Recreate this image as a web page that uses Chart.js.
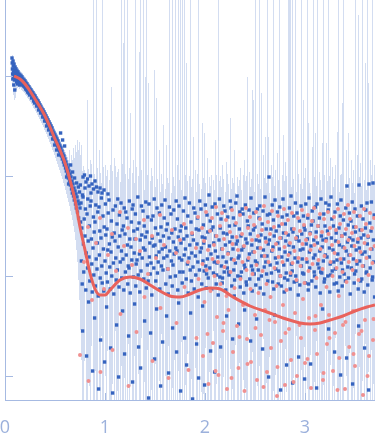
<!DOCTYPE html>
<html>
<head>
<meta charset="utf-8">
<script src="https://cdn.jsdelivr.net/npm/chart.js@4.4.1/dist/chart.umd.min.js"></script>
<style>
  html, body { margin: 0; padding: 0; background: #fff; }
</style>
</head>
<body>
<canvas id="saxs" width="375" height="438"></canvas>
<script>
// values: q on x, log10(I) on y

// measured points (used in fit)
const blueQ = [
  0.07,0.072,0.074,0.076,0.078, 0.08,0.082,0.084,0.086,0.088, 0.09,0.092,0.094,0.096,0.098,
  0.10,0.102,0.104,0.106, 0.11,0.112,0.114,0.116, 0.12,0.122,0.124,0.126, 0.13,0.132,0.134,0.136, 0.14,0.142,0.144,0.146,
  0.15,0.153,0.156, 0.16,0.163,0.166, 0.17,0.173,0.176, 0.18,0.183,0.186, 0.19,0.193,0.196,
  0.20,0.203,0.206, 0.21,0.213,0.216, 0.22,0.223,0.226, 0.23,0.233,0.236, 0.24,0.243,0.246,
  0.25,0.255, 0.26,0.263,0.266, 0.27,0.275, 0.28,0.283,0.286, 0.29,0.293,0.296,
  0.30,0.305, 0.31,0.313,0.316, 0.32,0.325, 0.33,0.333,0.336, 0.34,0.345,
  0.35,0.353,0.356, 0.36,0.365, 0.37,0.373,0.376, 0.38,0.385, 0.39,0.393,0.396,
  0.40,0.405, 0.41,0.413,0.416, 0.42,0.425, 0.43,0.433,0.436, 0.44,0.445,
  0.45,0.453,0.456, 0.46,0.465, 0.47,0.473,0.476, 0.48,0.485, 0.49,0.493,0.496,
  0.50,0.505, 0.51,0.513,0.516, 0.52,0.525, 0.53,0.533,0.536, 0.54,0.545,
  0.55,0.553,0.556, 0.56,0.565, 0.57,0.573,0.576, 0.58,0.585, 0.59,0.593,0.596,
  0.60,0.605, 0.61,0.613,0.616, 0.62,0.625, 0.63,0.633,0.636, 0.64,0.645,
  0.65,0.653,0.656, 0.66,0.665, 0.67,0.673,0.676, 0.68,0.685, 0.69,0.693,0.696,
  0.70,0.705, 0.71,0.713,0.716, 0.72,0.725, 0.73,0.733,0.736, 0.74,0.745, 0.75,0.753,0.756,
  0.76,0.764,0.768,0.772,0.776, 0.78,0.784,0.788,0.792, 0.80,0.804,0.808,0.812,0.816,
  0.82,0.824,0.828,0.832,0.836, 0.84,0.844,0.848,0.852, 0.86,0.864,0.868,0.872,0.876,
  0.88,0.884,0.888,0.892,0.896, 0.90,0.904,0.908,0.912, 0.92,0.924,0.928,0.932,0.936,
  0.94,0.944,0.948,0.952,0.956, 0.96,0.964,0.968,0.972, 0.98,0.984,0.988,0.992,0.996,
  1.00,1.004,1.008,1.012,1.016, 1.02,1.024,1.028,1.032, 1.04,1.044,1.048,1.052,1.056,
  1.06,1.064,1.068,1.072,1.076, 1.08,1.084,1.088,1.092, 1.10,1.104,1.108,1.112,1.116,
  1.12,1.124,1.128,1.132,1.136, 1.14,1.144,1.148,1.152, 1.16,1.164,1.168,1.172,1.176,
  1.18,1.184,1.188,1.192,1.196, 1.20,1.204,1.208,1.212, 1.22,1.224,1.228,1.232,1.236,
  1.24,1.244,1.248,1.252, 1.26,1.264,1.268,1.272,1.276, 1.28,1.284,1.288,1.292,1.296,
  1.30,1.304,1.308,1.312, 1.32,1.324,1.328,1.332,1.336, 1.34,1.344,1.348,1.352,1.356,
  1.36,1.364,1.368,1.372, 1.38,1.384,1.388,1.392,1.396, 1.40,1.404,1.408,1.412,
  1.42,1.424,1.428,1.432,1.436, 1.44,1.444,1.448,1.452,1.456, 1.46,1.464,1.468,1.472,
  1.48,1.484,1.488,1.492,1.496, 1.50,1.504,1.508,1.512,1.516, 1.52,1.524,1.528,1.532,
  1.54,1.544,1.548,1.552,1.556, 1.56,1.564,1.568,1.572,1.576, 1.58,1.584,1.588,1.592,
  1.60,1.604,1.608,1.612,1.616, 1.62,1.624,1.628,1.632,1.636, 1.64,1.644,1.648,1.652,
  1.66,1.664,1.668,1.672,1.676, 1.68,1.684,1.688,1.692, 1.70,1.704,1.708,1.712,1.716,
  1.72,1.724,1.728,1.732,1.736, 1.74,1.744,1.748,1.752,1.756, 1.76,1.764,1.768,1.772,
  1.78,1.784,1.788,1.792,1.796, 1.80,1.804,1.808,1.812,1.816, 1.82,1.824,1.828,1.832,
  1.84,1.844,1.848,1.852,1.856, 1.86,1.864,1.868,1.872,1.876, 1.88,1.884,1.888,1.892,
  1.90,1.904,1.908,1.912,1.916, 1.92,1.924,1.928,1.932,1.936, 1.94,1.944,1.948,1.952,
  1.96,1.964,1.968,1.972,1.976, 1.98,1.984,1.988,1.992,1.996, 2.00,2.004,2.008,2.012,2.016,
  2.02,2.024,2.028,2.032, 2.04,2.044,2.048,2.052,2.056, 2.06,2.064,2.068,2.072,
  2.08,2.084,2.088,2.092,2.096, 2.10,2.104,2.108,2.112,2.116, 2.12,2.124,2.128,2.132,
  2.14,2.144,2.148,2.152,2.156, 2.16,2.164,2.168,2.172,2.176, 2.18,2.184,2.188,2.192,
  2.20,2.204,2.208,2.212,2.216, 2.22,2.224,2.228,2.232,2.236, 2.24,2.244,2.248,2.252,
  2.26,2.264,2.268,2.272,2.276, 2.28,2.284,2.288,2.292,2.296, 2.30,2.304,2.308,2.312,
  2.32,2.324,2.328,2.332,2.336, 2.34,2.344,2.348,2.352,2.356, 2.36,2.364,2.368,2.372,
  2.38,2.384,2.388,2.392,2.396, 2.40,2.404,2.408,2.412,2.416, 2.42,2.424,2.428,2.432,
  2.44,2.444,2.448,2.452,2.456, 2.46,2.464,2.468,2.472,2.476, 2.48,2.484,2.488,2.492,
  2.50,2.504,2.508,2.512,2.516, 2.52,2.524,2.528,2.532,2.536, 2.54,2.544,2.548,2.552,
  2.56,2.564,2.568,2.572,2.576, 2.58,2.584,2.588,2.592, 2.60,2.604,2.608,2.612,2.616,
  2.62,2.624,2.628,2.632,2.636, 2.64,2.644,2.648,2.652, 2.66,2.664,2.668,2.672,2.676,
  2.68,2.684,2.688,2.692,2.696, 2.70,2.704,2.708,2.712, 2.72,2.724,2.728,2.732,2.736,
  2.74,2.744,2.748,2.752,2.756, 2.76,2.764,2.768,2.772, 2.78,2.784,2.788,2.792,2.796,
  2.80,2.804,2.808,2.812,2.816, 2.82,2.824,2.828,2.832, 2.84,2.844,2.848,2.852,2.856,
  2.86,2.864,2.868,2.872,2.876, 2.88,2.884,2.888,2.892, 2.90,2.904,2.908,2.912,2.916,
  2.92,2.924,2.928,2.932,2.936, 2.94,2.944,2.948,2.952, 2.96,2.964,2.968,2.972,2.976,
  2.98,2.984,2.988,2.992,2.996, 3.00,3.004,3.008,3.012, 3.02,3.024,3.028,3.032,3.036,
  3.04,3.044,3.048,3.052,3.056, 3.06,3.064,3.068,3.072, 3.08,3.084,3.088,3.092,3.096,
  3.10,3.104,3.108,3.112,3.116, 3.12,3.124,3.128,3.132, 3.14,3.144,3.148,3.152,3.156,
  3.16,3.164,3.168,3.172,3.176, 3.18,3.184,3.188,3.192,3.196, 3.20,3.204,3.208,3.212,
  3.22,3.224,3.228,3.232,3.236, 3.24,3.244,3.248,3.252,3.256, 3.26,3.264,3.268,3.272,
  3.28,3.284,3.288,3.292,3.296, 3.30,3.304,3.308,3.312,3.316, 3.32,3.324,3.328,3.332,
  3.34,3.344,3.348,3.352,3.356, 3.36,3.364,3.368,3.372,3.376, 3.38,3.384,3.388,3.392,
  3.40,3.404,3.408,3.412,3.416, 3.42,3.424,3.428,3.432,3.436, 3.44,3.444,3.448,3.452,
  3.46,3.464,3.468,3.472,3.476, 3.48,3.484,3.488,3.492,3.496, 3.50,3.504,3.508,3.512,
  3.52,3.524,3.528,3.532,3.536, 3.54,3.544,3.548,3.552,3.556, 3.56,3.564,3.568,3.572,
  3.58,3.584,3.588,3.592,3.596, 3.60,3.604,3.608,3.612,3.616, 3.62,3.624,3.628,3.632,3.636,
  3.64,3.644,3.648,3.652, 3.66,3.664,3.668,3.672,3.676, 3.68,3.684,3.688,3.692,3.696,
  0.775,0.78,0.795,0.80,0.81,0.825,0.84,0.855,0.86,0.87,0.885,0.90,0.915,0.93,0.95,0.97,0.99,1.03
];
const blueI = [
  0.18,0.13,0.07,0.02,-0.03, 0.15,0.10,0.04,-0.01,-0.09, 0.12,0.06,0.01,-0.04,-0.14,
  0.09,0.04,0.00,-0.03, 0.07,0.02,-0.02,-0.06, 0.05,0.01,-0.03,-0.08, 0.04,-0.01,-0.04,-0.07, 0.02,-0.02,-0.05,-0.09,
  0.01,-0.03,-0.06, 0.00,-0.04,-0.08, -0.01,-0.05,-0.09, -0.03,-0.07,-0.10, -0.04,-0.08,-0.11,
  -0.05,-0.09,-0.13, -0.07,-0.10,-0.14, -0.08,-0.12,-0.16, -0.10,-0.13,-0.17, -0.11,-0.15,-0.19,
  -0.13,-0.17, -0.14,-0.18,-0.22, -0.16,-0.20, -0.17,-0.21,-0.25, -0.19,-0.23,-0.27,
  -0.20,-0.25, -0.22,-0.26,-0.30, -0.24,-0.28, -0.25,-0.30,-0.34, -0.27,-0.32,
  -0.29,-0.33,-0.37, -0.31,-0.35, -0.33,-0.37,-0.41, -0.34,-0.39, -0.36,-0.41,-0.45,
  -0.38,-0.43, -0.40,-0.45,-0.50, -0.42,-0.47, -0.44,-0.49,-0.54, -0.46,-0.52,
  -0.48,-0.53,-0.58, -0.50,-0.56, -0.52,-0.58,-0.63, -0.55,-0.60, -0.57,-0.63,-0.69,
  -0.59,-0.65, -0.61,-0.67,-0.74, -0.63,-0.70, -0.65,-0.72,-0.79, -0.68,-0.75,
  -0.70,-0.77,-0.57, -0.72,-0.80, -0.75,-0.83,-0.64, -0.78,-0.86, -0.80,-0.89,-0.70,
  -0.83,-0.92, -0.86,-0.95,-1.01, -0.89,-0.98, -0.92,-1.02,-1.08, -0.95,-1.05,
  -0.98,-1.09,-0.89, -1.01,-1.13, -1.05,-1.17,-0.96, -1.08,-1.20, -1.12,-1.24,-1.02,
  -1.15,-1.28, -1.18,-1.32,-1.07, -1.21,-1.36, -1.25,-1.11,-1.42, -1.28,-1.16, -1.32,-1.09,-1.46,
  -1.27,-1.85,-1.52,-2.08,-2.55, -1.21,-1.68,-1.96,-1.43, -1.60,-1.33,-2.14,-1.77,-2.80,
  -1.38,-1.92,-1.23,-1.65,-2.26, -1.81,-1.50,-2.05,-1.30, -1.25,-1.63,-1.88,-2.16,-2.95,
  -1.72,-1.41,-1.99,-1.56,-2.42, -1.46,-2.10,-1.29,-1.83, -1.93,-1.67,-1.36,-2.20,-3.13,
  -1.31,-1.79,-1.55,-2.02,-2.64, -1.62,-1.22,-1.90,-2.07, -1.40,-1.73,-2.15,-1.51,-2.86,
  -1.85,-1.28,-1.59,-1.97,-2.31, -1.53,-2.06,-1.74,-1.37, -1.24,-1.68,-1.91,-2.13,-2.72,
  -1.76,-1.45,-2.00,-1.61,-3.17, -1.34,-1.87,-2.18,-1.57, -1.65,-1.30,-1.82,-2.04,-2.49,
  -1.48,-1.94,-1.23,-1.71,-3.01, -2.11,-1.39,-1.60,-1.86, -1.27,-1.75,-2.02,-1.54,-2.35,
  -1.83,-1.50,-2.14,-1.32,-2.78, -1.58,-1.96,-1.36,-1.79, -1.42,-1.69,-2.08,-1.90,-2.60,
  -1.92,-1.25,-1.63,-2.17, -1.71,-1.46,-1.84,-1.33,-3.06, -1.29,-2.01,-1.55,-1.77,-2.28,
  -1.63,-1.38,-2.10,-1.88, -1.84,-1.53,-1.21,-1.99,-2.71, -1.47,-1.78,-2.16,-1.64,-2.92,
  -1.95,-1.30,-1.59,-1.82, -1.35,-1.72,-2.03,-1.50,-2.45, -1.74,-1.61,-1.26,-2.12,
  -1.56,-1.89,-1.41,-2.05,-3.22, -1.28,-1.81,-1.67,-1.98,-2.57, -1.87,-1.44,-2.19,-1.62,
  -1.40,-1.70,-1.92,-1.23,-2.83, -1.69,-1.52,-2.05,-1.80,-2.33, -1.32,-1.97,-1.58,-1.86,
  -1.76,-1.37,-2.13,-1.65,-3.10, -1.51,-1.90,-1.29,-1.73,-2.66, -1.94,-1.60,-1.82,-1.42,
  -1.24,-1.71,-2.08,-1.54,-2.40, -1.80,-1.48,-1.93,-2.18,-2.97, -1.62,-1.31,-1.75,-2.01,
  -1.38,-1.85,-1.57,-2.10,-2.52, -1.89,-1.66,-1.34,-1.78, -1.53,-2.00,-1.72,-1.25,-2.76,
  -1.75,-1.43,-2.14,-1.61,-2.27, -1.30,-1.82,-1.96,-1.55,-3.15, -1.67,-1.50,-1.84,-2.07,
  -1.96,-1.35,-1.63,-1.79,-2.62, -1.22,-1.73,-1.52,-2.03,-2.89, -1.60,-1.88,-1.40,-2.17,
  -1.82,-1.27,-1.69,-1.94,-2.37, -1.46,-2.05,-1.77,-1.58,-3.23, -1.91,-1.64,-1.32,-2.13,
  -1.37,-1.80,-1.99,-1.53,-2.68, -1.68,-1.42,-1.86,-2.21,-3.02, -1.54,-1.94,-1.25,-1.76,
  -1.33,-1.72,-2.08,-1.61,-2.30, -1.85,-1.49,-1.67,-1.95,-3.09, -1.62,-1.29,-1.90,-2.12,-1.98,
  -1.39,-1.83,-1.56,-2.02, -1.19,-1.70,-1.92,-1.45,-2.75, -1.78,-1.54,-2.13,-1.31,
  -1.51,-1.97,-1.67,-1.86,-2.96, -1.28,-1.75,-1.60,-2.08,-1.99, -1.87,-1.38,-1.81,-2.19,
  -1.64,-1.23,-2.01,-1.52,-2.71, -1.43,-1.90,-1.73,-2.07,-2.02, -1.81,-1.57,-1.30,-1.96,
  -1.35,-1.69,-2.14,-1.86,-2.40, -1.58,-1.92,-1.41,-1.77,-1.96, -1.99,-1.50,-1.66,-1.25,
  -1.32,-1.83,-2.10,-1.61,-2.63, -1.73,-1.42,-1.94,-2.20,-2.04, -1.49,-1.87,-1.27,-1.68,
  -1.20,-1.65,-2.00,-1.82,-2.48, -1.80,-1.53,-1.36,-2.11,-2.01, -1.60,-1.96,-1.74,-1.33,
  -1.38,-1.71,-2.17,-1.89,-2.34, -1.92,-1.29,-1.63,-2.06,-2.09, -1.67,-1.45,-1.84,-1.50,
  -1.34,-1.78,-2.03,-1.58,-2.65, -1.22,-1.90,-1.69,-2.15,-1.94, -1.76,-1.54,-1.37,-1.98,
  -1.51,-1.85,-2.09,-1.64,-2.43, -1.87,-1.33,-1.72,-1.94,-2.03, -1.42,-1.65,-1.30,-2.12,
  -1.59,-2.00,-1.80,-1.48,-2.73, -1.35,-1.74,-2.18,-1.91, -1.21,-1.62,-1.86,-1.53,-1.98,
  -1.80,-1.39,-2.05,-1.68,-3.01, -1.01,-1.64,-1.38,-1.89, -1.53,-1.97,-1.75,-1.29,-2.06,
  -1.71,-1.44,-2.13,-1.60,-2.39, -1.24,-1.82,-1.93,-1.55, -1.87,-1.36,-1.67,-2.08,-1.95,
  -1.50,-1.73,-1.31,-2.00,-3.14, -1.62,-2.10,-1.81,-1.41, -1.23,-1.57,-1.89,-2.16,-2.02,
  -1.76,-1.48,-1.65,-1.97,-2.89, -1.39,-1.84,-2.04,-1.59, -1.69,-1.32,-1.77,-2.13,-1.99,
  -1.20,-1.88,-1.53,-1.95,-3.07, -1.56,-1.71,-1.40,-2.06, -1.82,-1.27,-2.00,-1.63,-2.05,
  -1.37,-1.61,-1.86,-2.19,-2.81, -1.65,-1.45,-2.09,-1.74, -1.30,-1.90,-1.58,-1.83,-1.97,
  -1.73,-1.40,-1.98,-1.51,-3.03, -1.54,-2.07,-1.28,-1.68, -1.86,-1.63,-1.42,-2.14,-2.08,
  -1.22,-1.76,-1.92,-1.57,-2.88, -1.70,-1.49,-2.05,-1.35, -1.45,-1.82,-1.64,-1.96,-2.00,
  -1.79,-1.31,-2.11,-1.56,-3.12, -1.28,-1.67,-1.88,-1.50, -1.92,-1.42,-1.75,-2.17,-1.96,
  -1.23,-1.60,-1.97,-1.71,-2.33, -1.64,-1.85,-1.38,-2.06,-2.03, -1.50,-1.79,-1.27,-1.63,
  -1.81,-1.55,-2.00,-1.34,-2.53, -1.29,-1.72,-2.16,-1.88,-1.99, -1.21,-1.62,-1.43,-1.95,
  -1.74,-1.50,-1.86,-2.08,-2.76, -1.36,-1.93,-1.65,-1.57,-2.07, -1.84,-1.28,-1.78,-2.15,
  -1.52,-1.69,-2.01,-1.40,-2.99, -1.24,-1.87,-1.60,-2.10,-1.94, -1.71,-1.44,-1.83,-1.98,
  -1.58,-2.05,-1.32,-1.75,-2.82, -1.10,-1.66,-1.91,-1.49,-2.02, -1.79,-1.37,-1.62,-2.18,
  -1.45,-1.92,-1.70,-1.26,-3.08, -1.64,-1.83,-1.51,-2.07,-1.98, -1.33,-1.56,-1.95,-1.74,
  -1.88,-1.40,-1.66,-2.13,-2.50, -1.09,-1.72,-1.85,-1.54,-2.05, -1.62,-1.30,-2.03,-1.78,
  -1.43,-1.90,-1.59,-2.16,-2.72, -1.76,-1.52,-1.34,-1.97,-1.96, -1.27,-1.68,-2.09,-1.61,-3.14,
  -1.08,-1.81,-1.47,-1.92, -1.55,-1.26,-1.73,-2.04,-2.01, -1.07,-1.64,-1.86,-1.39,-2.21,
  -1.19,-1.01,-0.99,-1.12,-1.06,-1.03,-1.10,-1.00,-1.17,-1.08,-1.13,-1.05,-1.11,-1.16,-1.12,-1.17,-1.14,-1.18
];

// points left out of the fit
const pinkQ = [
  0.75, 0.79, 0.83,0.835, 0.87, 0.91, 0.95,0.955, 0.99, 1.03, 1.07,1.075, 1.11, 1.15,1.155,
  1.19, 1.23,1.235, 1.27, 1.31,1.315, 1.35, 1.39,1.395, 1.43, 1.47,1.475, 1.51, 1.55,1.555,
  1.59, 1.63,1.635, 1.67, 1.71,1.715, 1.75, 1.79,1.795, 1.83,1.835, 1.87, 1.91,1.915, 1.93,1.935,
  1.97,1.975,1.98, 1.99,1.995, 2.01,2.015, 2.03,2.035, 2.05,2.055, 2.07,2.075,2.08, 2.09,2.095,
  2.11,2.115,2.12, 2.13,2.135, 2.15,2.155, 2.17,2.175,2.18, 2.19,2.195, 2.21,2.215,2.22,
  2.23,2.235, 2.25,2.255, 2.27,2.275,2.28, 2.29,2.295, 2.31,2.315,2.32, 2.33,2.335, 2.35,2.355,
  2.37,2.375,2.38, 2.39,2.395, 2.41,2.415,2.42, 2.43,2.435, 2.45,2.455,2.46, 2.47,2.475,
  2.49,2.495,2.50, 2.51,2.515,2.52, 2.53,2.535, 2.55,2.555,2.56, 2.57,2.575, 2.59,2.595,2.60,
  2.61,2.615,2.62, 2.63,2.635, 2.65,2.655,2.66, 2.67,2.675, 2.69,2.695,2.70, 2.71,2.715,2.72,
  2.73,2.735, 2.75,2.755,2.76, 2.77,2.775,2.78, 2.79,2.795,2.80, 2.81,2.815, 2.83,2.835,2.84,
  2.85,2.855,2.86, 2.87,2.875, 2.89,2.895,2.90, 2.91,2.915,2.92, 2.93,2.935, 2.95,2.955,2.96,
  2.97,2.975,2.98, 2.99,2.995,3.00, 3.01,3.015, 3.03,3.035,3.04, 3.05,3.055,3.06, 3.07,3.075,
  3.09,3.095,3.10, 3.11,3.115,3.12, 3.13,3.135, 3.15,3.155,3.16, 3.17,3.175,3.18, 3.19,3.195,
  3.21,3.215,3.22, 3.23,3.235,3.24, 3.25,3.255, 3.27,3.275,3.28, 3.29,3.295,3.30, 3.31,3.315,
  3.33,3.334,3.338,3.342, 3.35,3.355, 3.37,3.375,3.38, 3.39,3.395,3.40, 3.41,3.415,
  3.43,3.434,3.438,3.442, 3.45,3.455, 3.47,3.475,3.48, 3.49,3.495,3.50, 3.51,3.515,
  3.53,3.535,3.54, 3.55,3.555, 3.57,3.575,3.58, 3.59,3.595,3.60, 3.61,3.615, 3.63,3.635,3.64,
  3.65,3.655, 3.67,3.675,3.68, 3.69,3.695,
  2.025,2.105,2.185,2.265,2.345,2.425,2.505,2.585,2.645,2.725,2.805,2.885,
  2.945,3.025,3.105,3.185,3.245,3.325,3.405,3.485,3.565,3.625,3.685
];
const pinkI = [
  -2.79, -1.86, -1.51,-3.05, -2.24, -1.67, -1.42,-2.96, -2.13, -1.79, -1.58,-2.74, -1.95, -1.36,-2.38,
  -1.70, -1.52,-3.10, -1.89, -1.63,-2.56, -1.75, -1.44,-2.21, -1.98, -1.60,-2.85, -1.82, -1.39,-2.32,
  -1.69, -1.93,-3.02, -1.54, -1.77,-2.47, -1.64, -1.48,-2.11, -1.86,-2.94, -1.57, -1.72,-2.62, -1.41,-2.03,
  -1.52,-1.88,-2.80, -1.65,-2.26, -1.36,-1.94, -1.74,-3.08, -1.55,-2.15, -1.42,-1.83,-2.67, -1.69,-2.00,
  -1.31,-1.60,-2.41, -1.86,-2.99, -1.50,-2.08, -1.37,-1.73,-2.55, -1.63,-1.91, -1.44,-2.20,-3.13,
  -1.78,-2.34, -1.56,-1.96, -1.34,-1.68,-2.76, -1.84,-2.12, -1.47,-1.61,-2.50, -1.74,-2.92, -1.39,-2.03,
  -1.58,-1.86,-2.29, -1.70,-3.15, -1.32,-1.94,-2.63, -1.52,-1.82, -1.41,-2.13,-2.86, -1.64,-1.98,
  -1.49,-1.76,-2.39, -1.36,-1.89,-3.04, -1.60,-2.17, -1.43,-1.72,-2.59, -1.54,-1.95, -1.30,-1.80,-2.34,
  -1.66,-2.08,-2.96, -1.46,-1.86, -1.58,-2.21,-2.72, -1.35,-1.74, -1.51,-1.92,-2.46, -1.68,-2.10,-3.20,
  -1.40,-1.81, -1.62,-2.00,-2.65, -1.48,-1.86,-2.29, -1.33,-1.71,-3.09, -1.57,-2.14, -1.44,-1.79,-2.53,
  -1.67,-1.97,-2.84, -1.37,-1.87, -1.53,-1.75,-2.37, -1.62,-2.04,-3.00, -1.42,-1.82, -1.55,-1.90,-2.62,
  -1.34,-1.68,-2.23, -1.49,-2.07,-2.87, -1.64,-1.83, -1.39,-1.95,-2.42, -1.58,-1.74,-3.12, -1.45,-1.88,
  -1.32,-1.69,-2.54, -1.61,-2.02,-2.78, -1.50,-1.84, -1.38,-1.73,-2.29, -1.56,-1.93,-3.04, -1.43,-1.80,
  -1.65,-2.11,-2.68, -1.36,-1.58,-2.39, -1.52,-1.86, -1.69,-2.00,-2.95, -1.41,-1.77,-2.57, -1.54,-1.92,
  -1.33,-1.66,-2.20,-2.82, -1.48,-1.83, -1.60,-1.96,-2.49, -1.38,-1.72,-3.13, -1.53,-2.06,
  -1.29,-1.64,-1.86,-2.71, -1.43,-1.79, -1.57,-1.94,-2.35, -1.36,-1.70,-2.90, -1.51,-1.85,
  -1.63,-2.04,-2.58, -1.40,-1.76, -1.54,-1.90,-3.19, -1.33,-1.67,-2.44, -1.48,-1.82, -1.60,-1.99,-2.80,
  -1.37,-1.73, -1.52,-1.87,-2.64, -1.42,-1.70,
  -2.58,-2.95,-2.47,-3.02,-2.61,-2.88,-2.52,-3.11,-2.44,-2.91,-2.57,-3.06,
  -2.49,-2.83,-2.40,-2.97,-2.62,-3.14,-2.46,-2.78,-2.55,-3.00,-2.43
];

// model curve
const fitQ = [0.09,0.15,0.20,0.25,0.30,0.35,0.40,0.45,0.50,0.55,0.60,0.65,0.70,0.75,0.80,0.85,0.90,0.95,1.00,1.05,
  1.15,1.25,1.35,1.45,1.55,1.65,1.75,1.85,1.95,2.05,2.15,2.28,2.45,2.62,2.78,2.95,3.05,3.15,3.25,3.38,3.50,3.62,3.70];
const fitI = [0.00,-0.03,-0.08,-0.15,-0.23,-0.31,-0.40,-0.51,-0.63,-0.74,-0.87,-1.04,-1.24,-1.51,-1.74,-1.97,-2.13,-2.19,-2.19,-2.14,
  -2.04,-2.01,-2.03,-2.09,-2.15,-2.20,-2.21,-2.18,-2.14,-2.12,-2.13,-2.21,-2.30,-2.36,-2.42,-2.47,-2.48,-2.47,-2.44,-2.40,-2.35,-2.31,-2.29];

// error bars: top and bottom in log10 I, -9 = below the axis (negative lower bound)
const errQ = [
  0.07,0.08,0.09,0.10,0.11,0.12,0.13,0.14,0.15,0.16,
  0.17,0.18,0.19,0.20,0.21,0.22,0.23,0.24,0.25,0.26,
  0.27,0.28,0.29,0.30,0.31,0.32,0.33,0.34,0.35,0.36,
  0.37,0.38,0.39,0.40,0.41,0.42,0.43,0.44,0.45,0.46,
  0.47,0.48,0.49,0.50,0.51,0.52,0.53,0.54,0.55,0.56,
  0.57,0.58,0.59,0.60,0.61,0.62,0.63,0.64,0.65,0.66,
  0.67,0.68,0.69,0.70,0.71,0.72,0.73,0.74,0.75,0.76,
  0.77,0.78,0.79,0.81,0.82,0.83,0.84,0.85,0.86,0.88,
  0.89,0.90,0.91,0.92,0.94,0.95,0.96,0.97,0.98,1.00,
  1.01,1.02,1.04,1.05,1.06,1.07,1.09,1.10,1.11,1.12,
  1.13,1.15,1.16,1.17,1.18,1.19,1.20,1.22,1.23,1.24,
  1.25,1.27,1.28,1.29,1.30,1.31,1.33,1.34,1.35,1.36,
  1.38,1.39,1.40,1.41,1.42,1.43,1.45,1.46,1.47,1.49,
  1.50,1.51,1.52,1.54,1.55,1.56,1.57,1.58,1.60,1.61,
  1.62,1.63,1.64,1.66,1.67,1.68,1.69,1.70,1.72,1.73,
  1.74,1.75,1.76,1.77,1.79,1.80,1.81,1.82,1.84,1.85,
  1.86,1.87,1.88,1.90,1.91,1.92,1.93,1.94,1.96,1.97,
  1.98,1.99,2.00,2.02,2.03,2.04,2.05,2.06,2.08,2.09,
  2.10,2.11,2.13,2.14,2.15,2.16,2.17,2.18,2.20,2.21,
  2.22,2.23,2.25,2.26,2.27,2.28,2.29,2.30,2.32,2.33,
  2.34,2.35,2.36,2.38,2.39,2.40,2.41,2.42,2.44,2.45,
  2.46,2.47,2.48,2.49,2.50,2.52,2.53,2.54,2.55,2.56,
  2.58,2.59,2.60,2.61,2.62,2.63,2.64,2.66,2.67,2.68,
  2.69,2.70,2.72,2.73,2.74,2.75,2.77,2.78,2.79,2.80,
  2.81,2.83,2.84,2.85,2.86,2.87,2.88,2.90,2.91,2.92,
  2.93,2.95,2.96,2.97,2.98,2.99,3.00,3.02,3.03,3.04,
  3.05,3.07,3.08,3.09,3.10,3.11,3.12,3.14,3.15,3.16,
  3.17,3.18,3.19,3.21,3.22,3.23,3.24,3.25,3.27,3.28,
  3.29,3.30,3.32,3.33,3.34,3.35,3.36,3.37,3.38,3.40,
  3.41,3.42,3.43,3.44,3.46,3.47,3.48,3.49,3.50,3.52,
  3.53,3.54,3.55,3.56,3.57,3.59,3.60,3.61,3.62,3.63,
  3.65,3.66,3.67,3.68,3.69,3.70
];
const errHi = [
  0.21,0.18,0.16,0.13,0.11,0.09,0.08,0.06,0.05,0.04,
  0.03,0.01,0.00,-0.01,-0.03,-0.04,-0.06,-0.07,-0.09,-0.10,
  -0.12,-0.13,-0.15,-0.16,-0.18,-0.20,-0.21,-0.23,-0.25,-0.27,
  -0.28,-0.30,-0.32,-0.34,-0.36,-0.38,-0.40,-0.42,-0.44,-0.46,
  -0.48,-0.50,-0.52,-0.54,-0.56,-0.58,-0.60,-0.63,-0.65,-0.67,
  -0.69,-0.72,-0.74,-0.76,-0.79,-0.81,-0.84,-0.74,-0.87,-0.79,
  -0.84,-0.72,-0.82,-0.69,-0.76,-0.64,-0.74,-0.66,-0.79,-0.69,
  -0.95,-0.90,-0.94,-1.01,-0.24,-0.93,-1.06,-0.84,-0.88,1,
  -0.98,-1.03,1,-0.92,-0.74,-0.97,-1.07,1,-0.91,-0.89,
  -1.00,-0.94,-1.04,-0.89,-0.11,-0.95,-0.82,-0.90,-1.01,-0.96,
  -0.93,-1.06,1,-0.88,0.33,1,-0.98,1,-1.03,-0.92,
  -0.37,-0.97,-0.84,-1.07,1,-0.91,-1.00,0.24,1,-0.94,
  1,-1.14,-0.01,1,-0.99,-0.07,-1.05,-0.92,-1.00,0.06,
  -1.11,-0.22,-1.03,-0.74,-1.16,-0.98,-1.08,-0.49,-1.13,-0.69,
  -1.02,-1.07,1,-1.17,1,-1.01,-1.10,1,-0.89,1,
  -1.04,1,-1.14,1,1,-0.99,0.13,-1.05,-1.00,1,
  -1.11,-1.03,-0.61,-0.94,-1.16,-0.98,1,-1.08,-1.13,-0.47,
  -1.02,-0.57,-1.07,-0.82,-1.17,-1.01,-1.10,-0.99,-1.04,-1.14,
  -0.64,-0.99,1,-1.05,-1.00,-1.11,-0.89,-1.03,-1.16,-0.86,
  -0.98,-1.08,-0.42,-1.13,-1.02,-1.07,-0.74,-1.17,-1.01,-1.10,
  -1.04,-0.92,-1.14,-0.99,-0.84,-1.05,-1.00,-0.01,-0.96,-1.11,
  -1.03,-0.14,-0.24,-1.16,1,-0.98,-1.08,1,-1.13,-0.17,
  -0.79,-1.02,-0.61,-1.07,1,-0.61,-1.17,-0.89,-1.01,1,
  -1.10,-0.94,-0.77,-1.04,1,-1.14,-0.99,-0.59,-1.05,-0.86,
  -1.00,1,1,1,-1.11,1,-1.03,1,-1.16,-0.74,
  -0.98,-1.08,1,-1.13,-0.24,-1.02,-0.92,1,-0.47,-1.07,
  -1.17,-0.71,1,-1.01,-0.57,-1.10,1,-0.96,-1.04,-1.14,
  -0.67,1,-0.99,-0.67,-1.05,1,-1.00,-0.82,-0.91,-1.11,
  -1.03,-0.89,-0.56,1,-1.16,-0.99,-0.98,-0.27,1,-1.08,
  -0.74,-1.13,-0.57,-1.02,-0.84,-1.07,-0.94,-1.17,1,-0.79,
  0.61,-1.01,-0.87,-1.10,1,-1.04,0.13,-1.14,1,-0.07,
  -0.84,-0.99,1,-1.05,-0.89,-1.00
];
const errLo = [
  -0.09,-0.19,-0.24,-0.22,-0.14,-0.12,-0.11,-0.13,-0.12,-0.14,
  -0.15,-0.16,-0.17,-0.19,-0.20,-0.22,-0.23,-0.25,-0.26,-0.28,
  -0.30,-0.32,-0.33,-0.35,-0.37,-0.39,-0.41,-0.43,-0.45,-0.47,
  -0.49,-0.51,-0.54,-0.56,-0.58,-0.61,-0.63,-0.66,-0.68,-0.71,
  -0.74,-0.76,-0.79,-0.82,-0.85,-0.88,-0.91,-0.94,-0.97,-1.00,
  -1.03,-1.07,-1.10,-1.14,-1.18,-1.22,-1.26,-1.30,-1.35,-1.39,
  -1.44,-1.50,-1.56,-1.64,-1.74,-1.86,-2.04,-2.24,-2.54,-2.84,
  -9,-9,-2.85,-9,-9,-3.05,-3.10,-9,-2.70,-9,
  -9,-2.95,-9,-9,-3.12,-9,-2.60,-9,-9,-3.00,
  -9,-2.75,-9,-9,-9,-3.08,-9,-2.55,-9,-3.15,
  -9,-9,-2.90,-9,-9,-3.02,-9,-9,-2.68,-9,
  -3.10,-9,-9,-2.80,-9,-9,-2.98,-9,-9,-2.62,
  -9,-3.06,-9,-9,-2.74,-9,-9,-3.14,-9,-9,
  -2.88,-9,-9,-3.05,-9,-2.58,-9,-9,-3.00,-9,
  -9,-2.70,-9,-9,-3.12,-9,-2.84,-9,-9,-2.95,
  -9,-9,-2.66,-9,-9,-3.09,-9,-2.78,-9,-9,
  -3.03,-9,-9,-2.92,-9,-9,-2.60,-9,-3.16,-9,
  -3.18,-9,-2.72,-9,-9,-2.96,-9,-9,-2.55,-9,
  -9,-3.08,-9,-9,-2.82,-9,-9,-3.01,-9,-2.64,
  -9,-9,-2.93,-9,-3.13,-9,-9,-2.69,-9,-9,
  -2.87,-9,-9,-3.04,-9,-3.12,-9,-9,-2.58,-9,
  -9,-2.76,-9,-9,-9,-3.10,-9,-2.90,-9,-9,
  -2.63,-9,-9,-3.07,-9,-9,-2.81,-9,-9,-3.15,
  -9,-2.99,-9,-9,-2.67,-9,-9,-3.11,-9,-2.73,
  -3.16,-9,-9,-2.86,-9,-9,-3.02,-9,-2.60,-9,
  -9,-9,-2.94,-9,-9,-2.71,-9,-3.13,-9,-9,
  -2.79,-9,-9,-3.06,-9,-2.65,-9,-9,-2.97,-9,
  -9,-3.09,-9,-9,-2.75,-9,-9,-2.89,-9,-3.10,
  -9,-2.62,-9,-9,-3.14,-9,-2.83,-9,-9,-2.70,
  -3.00,-9,-9,-2.77,-9,-9,-3.12,-9,-2.58,-9,
  -9,-2.91,-9,-9,-3.05,-9,-2.68,-9,-9,-2.96,
  -9,-2.74,-9,-3.08,-9,-9
];

const xTicks = [0, 1, 2, 3];
const yTicks = [-3, -2, -1, 0];

const axisColor = '#a6bae2';
const labelColor = '#9cb1dc';

function toPts(qs, vals) {
    return qs.map((q, i) => ({x: q, y: vals[i]}));
}

// light blue vertical error bars behind the points
const errorBars = {
    id: 'errorBars',
    beforeDatasetsDraw(chart) {
        const {ctx, chartArea: a, scales: {x, y}} = chart;
        ctx.save();
        ctx.beginPath();
        ctx.rect(a.left, a.top, a.right - a.left, a.bottom - a.top);
        ctx.clip();
        ctx.strokeStyle = '#d3ddf1';
        ctx.lineWidth = 1;
        ctx.beginPath();
        for (let i = 0; i < errQ.length; i++) {
            const px = Math.round(x.getPixelForValue(errQ[i])) + 0.5;
            let top = Math.max(y.getPixelForValue(errHi[i]), a.top - 2);
            let bot = Math.min(y.getPixelForValue(errLo[i]), a.bottom + 2);
            ctx.moveTo(px, top);
            ctx.lineTo(px, bot);
        }
        ctx.stroke();
        ctx.restore();
    }
};

// short tick marks pointing into the plot
const innerTicks = {
    id: 'innerTicks',
    afterDraw(chart) {
        const {ctx, chartArea: a, scales: {x, y}} = chart;
        ctx.save();
        ctx.strokeStyle = axisColor;
        ctx.lineWidth = 1;
        ctx.beginPath();
        for (const v of yTicks) {
            const py = Math.round(y.getPixelForValue(v)) + 0.5;
            ctx.moveTo(a.left, py);
            ctx.lineTo(a.left + 8, py);
        }
        for (const v of xTicks) {
            const px = Math.round(x.getPixelForValue(v)) + 0.5;
            ctx.moveTo(px, a.bottom);
            ctx.lineTo(px, a.bottom - 7);
        }
        ctx.stroke();
        ctx.restore();
    }
};

const ctx = document.getElementById('saxs').getContext('2d');
new Chart(ctx, {
    type: 'scatter',
    data: {
        datasets: [
            {
                label: 'fit',
                type: 'line',
                data: toPts(fitQ, fitI),
                borderColor: '#e9625c',
                borderWidth: 3,
                pointRadius: 0,
                fill: false,
                cubicInterpolationMode: 'monotone',
                order: 0
            },
            {
                label: 'excluded',
                data: toPts(pinkQ, pinkI),
                pointStyle: 'circle',
                pointRadius: 2,
                backgroundColor: '#f09090',
                borderWidth: 0,
                order: 1
            },
            {
                label: 'data',
                data: toPts(blueQ, blueI),
                pointStyle: 'rect',
                pointRadius: 2.4,
                backgroundColor: '#3563bf',
                borderWidth: 0,
                order: 2
            }
        ]
    },
    options: {
        responsive: false,
        animation: false,
        layout: { padding: 0, autoPadding: false },
        plugins: {
            legend: { display: false },
            tooltip: { enabled: false }
        },
        scales: {
            x: {
                type: 'linear',
                min: 0,
                max: 3.7,
                grid: { display: false },
                border: { color: axisColor, width: 1 },
                ticks: {
                    stepSize: 1,
                    includeBounds: false,
                    maxRotation: 0,
                    padding: 9,
                    color: labelColor,
                    font: { family: 'Open Sans', size: 18 }
                },
                afterFit(s) { s.height = 38; s.paddingLeft = 0; s.paddingRight = 0; }
            },
            y: {
                type: 'linear',
                min: -3.24,
                max: 0.76,
                grid: { display: false },
                border: { color: axisColor, width: 1 },
                ticks: { display: false },
                afterFit(s) { s.width = 5; }
            }
        }
    },
    plugins: [errorBars, innerTicks]
});
</script>
</body>
</html>
